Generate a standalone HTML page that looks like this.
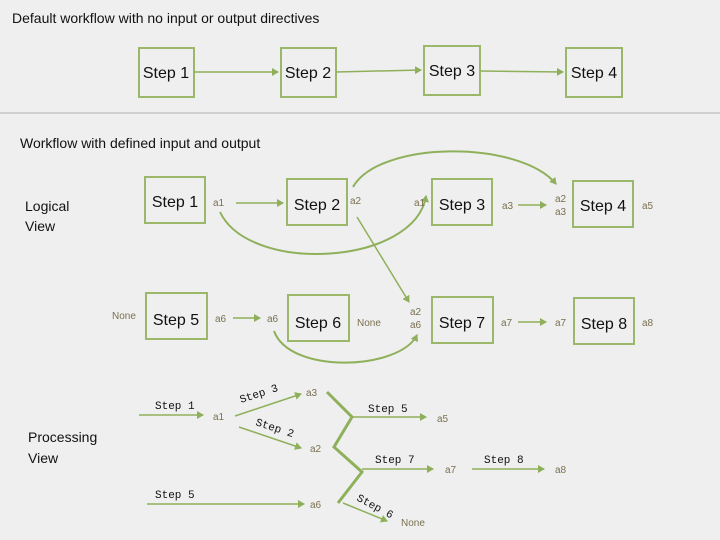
<!DOCTYPE html>
<html><head><style>
body{margin:0;background:#efefef;}
svg{display:block;}
.t{font-family:"Liberation Sans",sans-serif;}
.m{font-family:"Liberation Mono",monospace;font-size:11px;fill:#111;}
.s{font-family:"Liberation Sans",sans-serif;font-size:10px;fill:#7a7050;}
.b{font-family:"Liberation Sans",sans-serif;font-size:16px;fill:#111;}
</style></head><body>
<svg width="720" height="540" viewBox="0 0 720 540" xmlns="http://www.w3.org/2000/svg">
<defs>
<marker id="a" markerWidth="8" markerHeight="8" refX="6" refY="4" orient="auto" markerUnits="userSpaceOnUse">
<path d="M0,0 L7,4 L0,8 z" fill="#8fb05a"/></marker>
</defs>
<rect width="720" height="540" fill="#efefef"/>
<text x="12" y="23" class="t" font-size="14" fill="#111">Default workflow with no input or output directives</text>
<line x1="0" y1="113" x2="720" y2="113" stroke="#cfcfcf" stroke-width="2"/>
<text x="20" y="148" class="t" font-size="14" fill="#111">Workflow with defined input and output</text>
<text x="25" y="211" class="t" font-size="14" fill="#111">Logical</text>
<text x="25" y="231" class="t" font-size="14" fill="#111">View</text>
<text x="28" y="442" class="t" font-size="14" fill="#111">Processing</text>
<text x="28" y="463" class="t" font-size="14" fill="#111">View</text>

<g fill="none" stroke="#9bb86a" stroke-width="2">
<rect x="139" y="48" width="55" height="49"/>
<rect x="281" y="48" width="55" height="49"/>
<rect x="424" y="46" width="56" height="49"/>
<rect x="566" y="48" width="56" height="49"/>
<rect x="145" y="177" width="60" height="46"/>
<rect x="287" y="179" width="60" height="46"/>
<rect x="432" y="179" width="60" height="46"/>
<rect x="573" y="181" width="60" height="46"/>
<rect x="146" y="293" width="61" height="46"/>
<rect x="288" y="295" width="61" height="46"/>
<rect x="432" y="297" width="61" height="46"/>
<rect x="574" y="298" width="60" height="46"/>
</g>
<g class="b" text-anchor="middle">
<text x="166" y="78">Step 1</text><text x="308" y="78">Step 2</text><text x="452" y="76">Step 3</text><text x="594" y="78">Step 4</text>
<text x="175" y="207">Step 1</text><text x="317" y="210">Step 2</text><text x="462" y="210">Step 3</text><text x="603" y="211">Step 4</text>
<text x="176" y="325">Step 5</text><text x="318" y="328">Step 6</text><text x="462" y="328">Step 7</text><text x="604" y="329">Step 8</text>
</g>

<g fill="none" stroke="#8fb05a" stroke-width="1.5" marker-end="url(#a)">
<line x1="194" y1="72" x2="278" y2="72"/>
<line x1="336" y1="72" x2="421" y2="70"/>
<line x1="480" y1="71" x2="563" y2="72"/>
<line x1="236" y1="203" x2="283" y2="203"/>
<line x1="357" y1="217" x2="409" y2="302"/>
<line x1="518" y1="205" x2="546" y2="205"/>
<line x1="233" y1="318" x2="260" y2="318"/>
<line x1="518" y1="322" x2="546" y2="322"/>
<line x1="139" y1="415" x2="203" y2="415"/>
<line x1="235" y1="416" x2="301" y2="394"/>
<line x1="239" y1="427" x2="301" y2="448"/>
<line x1="352" y1="417" x2="426" y2="417"/>
<line x1="362" y1="469" x2="433" y2="469"/>
<line x1="472" y1="469" x2="544" y2="469"/>
<line x1="147" y1="504" x2="304" y2="504"/>
<line x1="343" y1="503" x2="387" y2="521"/>
</g>
<g fill="none" stroke="#8fb05a" stroke-width="2" marker-end="url(#a)">
<path d="M353,187 C380,140 520,140 556,184"/>
<path d="M220,212 C250,275 415,265 426,196"/>
<path d="M274,331 C290,375 400,370 417,335"/>
</g>
<g fill="none" stroke="#8fb05a" stroke-width="3">
<polyline points="327,392 352,417 334,447 362,472 338,503"/>
</g>

<g class="s">
<text x="213" y="206">a1</text><text x="350" y="204">a2</text><text x="414" y="206">a1</text>
<text x="502" y="209">a3</text><text x="555" y="202">a2</text><text x="555" y="215">a3</text><text x="642" y="209">a5</text>
<text x="112" y="319">None</text><text x="215" y="322">a6</text><text x="267" y="322">a6</text><text x="357" y="326">None</text>
<text x="410" y="315">a2</text><text x="410" y="328">a6</text><text x="501" y="326">a7</text><text x="555" y="326">a7</text><text x="642" y="326">a8</text>
<text x="213" y="420">a1</text><text x="306" y="396">a3</text><text x="310" y="452">a2</text><text x="437" y="422">a5</text>
<text x="445" y="473">a7</text><text x="555" y="473">a8</text><text x="310" y="508">a6</text><text x="401" y="526">None</text>
</g>
<g class="m">
<text x="155" y="409">Step 1</text>
<text x="241" y="403" transform="rotate(-18 241 403)">Step 3</text>
<text x="255" y="425" transform="rotate(18 255 425)">Step 2</text>
<text x="368" y="412">Step 5</text>
<text x="375" y="463">Step 7</text>
<text x="484" y="463">Step 8</text>
<text x="155" y="498">Step 5</text>
<text x="356" y="500" transform="rotate(28 356 500)">Step 6</text>
</g>
</svg>
</body></html>
